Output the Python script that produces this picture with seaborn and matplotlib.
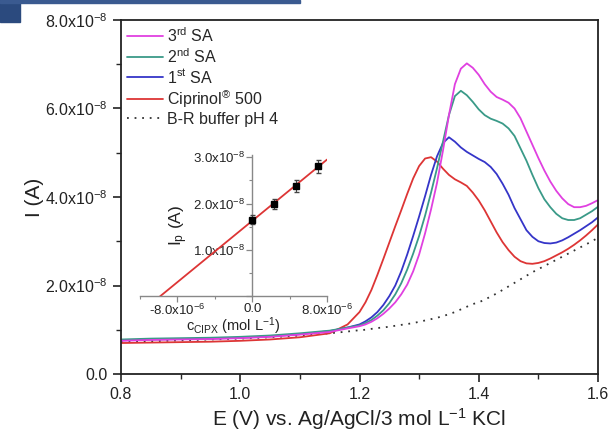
import numpy as np
import pandas as pd
import matplotlib
matplotlib.use("Agg")
import matplotlib.pyplot as plt
import seaborn as sns
from matplotlib.ticker import FuncFormatter, MultipleLocator, FixedLocator, FixedFormatter
from matplotlib.patches import Rectangle
from matplotlib.lines import Line2D

# Datos (I en unidades de 1e-8 A)
E = [0.80, 0.85, 0.90, 0.95, 1.00, 1.05, 1.10, 1.15, 1.18,
     1.20, 1.21, 1.22, 1.23, 1.24, 1.25, 1.26, 1.27, 1.28, 1.29,
     1.30, 1.31, 1.32, 1.33, 1.34, 1.35, 1.36, 1.37, 1.38, 1.39,
     1.40, 1.41, 1.42, 1.43, 1.44, 1.45, 1.46, 1.47, 1.48, 1.49,
     1.50, 1.51, 1.52, 1.53, 1.54, 1.55, 1.56, 1.57, 1.58, 1.59, 1.60]

ciprinol = [0.70, 0.71, 0.72, 0.73, 0.75, 0.78, 0.83, 0.92, 1.12,
            1.40, 1.62, 1.90, 2.24, 2.60, 2.97, 3.34, 3.70, 4.07, 4.42,
            4.70, 4.87, 4.90, 4.80, 4.64, 4.50, 4.40, 4.33, 4.25, 4.10,
            3.92, 3.70, 3.45, 3.20, 2.98, 2.80, 2.65, 2.55, 2.50, 2.49,
            2.51, 2.55, 2.61, 2.68, 2.75, 2.83, 2.92, 3.02, 3.13, 3.25, 3.38]

sa1 = [0.76, 0.78, 0.79, 0.80, 0.82, 0.85, 0.90, 0.97, 1.05,
       1.12, 1.19, 1.28, 1.40, 1.56, 1.76, 2.00, 2.32, 2.70, 3.12,
       3.56, 4.02, 4.50, 4.92, 5.22, 5.35, 5.25, 5.12, 5.02, 4.94,
       4.86, 4.79, 4.68, 4.52, 4.30, 4.05, 3.75, 3.50, 3.25, 3.10,
       3.00, 2.96, 2.95, 2.97, 3.02, 3.09, 3.17, 3.25, 3.34, 3.43, 3.54]

sa2 = [0.78, 0.80, 0.81, 0.82, 0.84, 0.87, 0.92, 0.98, 1.05,
       1.10, 1.15, 1.22, 1.32, 1.44, 1.60, 1.80, 2.05, 2.36, 2.72,
       3.12, 3.58, 4.10, 4.65, 5.25, 5.85, 6.28, 6.40, 6.30, 6.15,
       5.98, 5.85, 5.77, 5.72, 5.66, 5.55, 5.38, 5.10, 4.82, 4.50,
       4.20, 3.95, 3.77, 3.62, 3.52, 3.48, 3.48, 3.52, 3.60, 3.68, 3.78]

sa3 = [0.75, 0.77, 0.78, 0.79, 0.81, 0.84, 0.89, 0.95, 1.03,
       1.08, 1.12, 1.18, 1.26, 1.36, 1.48, 1.62, 1.80, 2.02, 2.32,
       2.70, 3.18, 3.72, 4.32, 5.05, 5.85, 6.55, 6.90, 7.02, 6.92,
       6.76, 6.55, 6.38, 6.26, 6.20, 6.13, 6.00, 5.78, 5.48, 5.18,
       4.88, 4.60, 4.35, 4.14, 3.97, 3.84, 3.77, 3.77, 3.80, 3.86, 3.93]

buffer_br = [0.72, 0.74, 0.76, 0.78, 0.80, 0.83, 0.87, 0.92, 0.96,
             0.99, 1.00, 1.02, 1.04, 1.05, 1.07, 1.09, 1.11, 1.13, 1.15,
             1.18, 1.21, 1.24, 1.27, 1.31, 1.35, 1.40, 1.46, 1.52, 1.58,
             1.62, 1.68, 1.75, 1.82, 1.90, 1.98, 2.06, 2.14, 2.22, 2.30,
             2.37, 2.44, 2.51, 2.58, 2.65, 2.72, 2.79, 2.86, 2.93, 3.00, 3.08]

# Inserto: adiciones estándar
c_cipx = [0.0, 2.35e-6, 4.7e-6, 7.0e-6]
ip = [1.65e-8, 1.99e-8, 2.38e-8, 2.81e-8]
ip_err = [0.10e-8, 0.10e-8, 0.12e-8, 0.14e-8]
inset_xticks = [-8.0e-6, 0.0, 8.0e-6]
inset_xticklabels = ["-8.0x10$^{-6}$", "0.0", "8.0x10$^{-6}$"]

names = ["3$^{\\rm rd}$ SA", "2$^{\\rm nd}$ SA", "1$^{\\rm st}$ SA", "Ciprinol$^{\\rm ®}$ 500"]
colors = ["#e040e0", "#3a9a88", "#3535c8", "#dd3535"]
series = [sa3, sa2, sa1, ciprinol]

sns.set_theme(style="ticks")
plt.rcParams["font.family"] = ["Liberation Sans", "DejaVu Sans"]
plt.rcParams["mathtext.fontset"] = "custom"
plt.rcParams["mathtext.rm"] = "Liberation Sans"
plt.rcParams["mathtext.it"] = "Liberation Sans:italic"
plt.rcParams["mathtext.bf"] = "Liberation Sans:bold"

df = pd.concat([pd.DataFrame({"E": E, "I": np.array(s) * 1e-8, "curva": n})
                for n, s in zip(names, series)])
df_buf = pd.DataFrame({"E": E, "I": np.array(buffer_br) * 1e-8})

fig = plt.figure(figsize=(6.1, 4.32), dpi=100)
ax = fig.add_axes([121 / 610, 1 - 374 / 432, 477 / 610, 354 / 432])

sns.lineplot(data=df_buf, x="E", y="I", ax=ax, color="#333333", linewidth=1.3,
             linestyle=(0, (1, 3.2)), legend=False)
sns.lineplot(data=df, x="E", y="I", hue="curva", hue_order=names[::-1],
             palette=dict(zip(names, colors)), ax=ax, linewidth=1.3, legend=False)

ax.set_xlim(0.8, 1.6)
ax.set_ylim(0, 8e-8)
ax.xaxis.set_major_locator(MultipleLocator(0.2))
ax.xaxis.set_minor_locator(MultipleLocator(0.1))
ax.yaxis.set_major_locator(MultipleLocator(2e-8))
ax.yaxis.set_minor_locator(MultipleLocator(1e-8))
ax.xaxis.set_major_formatter(FuncFormatter(lambda v, p: f"{v:.1f}"))
ax.yaxis.set_major_formatter(FuncFormatter(
    lambda v, p: "0.0" if abs(v) < 1e-12 else f"{v / 1e-8:.1f}x10$^{{-8}}$"))
ax.tick_params(which="major", direction="out", length=6, width=1.2, labelsize=11.5,
               colors="#222222", top=False, right=False)
ax.tick_params(which="minor", direction="out", length=3.5, width=1.0,
               top=False, right=False)
for s in ax.spines.values():
    s.set_color("#222222")
    s.set_linewidth(1.3)
ax.set_xlabel("E (V) vs. Ag/AgCl/3 mol L$^{-1}$ KCl", fontsize=15, color="#222222", labelpad=3)
ax.set_ylabel("I (A)", fontsize=15, color="#222222", labelpad=1)

handles = [Line2D([], [], color=c, lw=1.3) for c in colors]
handles.append(Line2D([], [], color="#333333", lw=1.3, linestyle=(0, (1, 3.2))))
ax.legend(handles, names + ["B-R buffer pH 4"], loc="upper left", frameon=False,
          fontsize=11.5, handlelength=2.2, handletextpad=0.3, labelspacing=0.13,
          borderaxespad=0.0, bbox_to_anchor=(0, 1))

# Inserto
axi = fig.add_axes([140 / 610, 1 - 296 / 432, 187 / 610, 141 / 432])
axi.set_xlim(-1.2e-5, 8.0e-6)
axi.set_ylim(0, 3.05e-8)
sns.regplot(x=c_cipx, y=ip, ax=axi, ci=None, truncate=False, scatter=False,
            line_kws={"color": "#dd3535", "lw": 1.3})
axi.errorbar(c_cipx, ip, yerr=ip_err, fmt="s", color="black", ms=4.5,
             ecolor="#444444", elinewidth=0.8, capsize=1.8, zorder=5)
axi.set_xlim(-1.2e-5, 8.0e-6)
axi.set_ylim(0, 3.05e-8)
axi.patch.set_alpha(0)
axi.spines["top"].set_visible(False)
axi.spines["right"].set_visible(False)
axi.spines["left"].set_position(("data", 0))
for s in ("left", "bottom"):
    axi.spines[s].set_color("#888888")
    axi.spines[s].set_linewidth(1.0)
axi.xaxis.set_major_locator(FixedLocator(inset_xticks))
axi.xaxis.set_major_formatter(FixedFormatter(inset_xticklabels))
axi.xaxis.set_minor_locator(MultipleLocator(4e-6))
axi.yaxis.set_major_locator(MultipleLocator(1e-8))
axi.yaxis.set_minor_locator(MultipleLocator(0.5e-8))
axi.yaxis.set_major_formatter(FuncFormatter(
    lambda v, p: "" if abs(v) < 1e-12 else f"{v / 1e-8:.1f}x10$^{{-8}}$"))
axi.tick_params(which="major", direction="out", length=4, width=0.9, labelsize=9.5,
                colors="#888888", labelcolor="#222222", pad=1)
axi.tick_params(which="minor", direction="out", length=2, width=0.8, colors="#888888")
axi.set_xlabel("c$_{\\rm CIPX}$ (mol L$^{-1}$)", fontsize=10.5, color="#222222", labelpad=-2)
axi.set_ylabel("I$_{\\rm p}$ (A)", fontsize=12.5, color="#222222", labelpad=2)

# esquina azul de la diapositiva
fig.patches.append(Rectangle((0, 1 - 22 / 432), 20 / 610, 22 / 432,
                             transform=fig.transFigure, color="#2b4a7e", zorder=0))
fig.patches.append(Rectangle((0, 1 - 3 / 432), 300 / 610, 3 / 432,
                             transform=fig.transFigure, color="#3a5a90", zorder=0))

fig.savefig("out.png", dpi=100)
